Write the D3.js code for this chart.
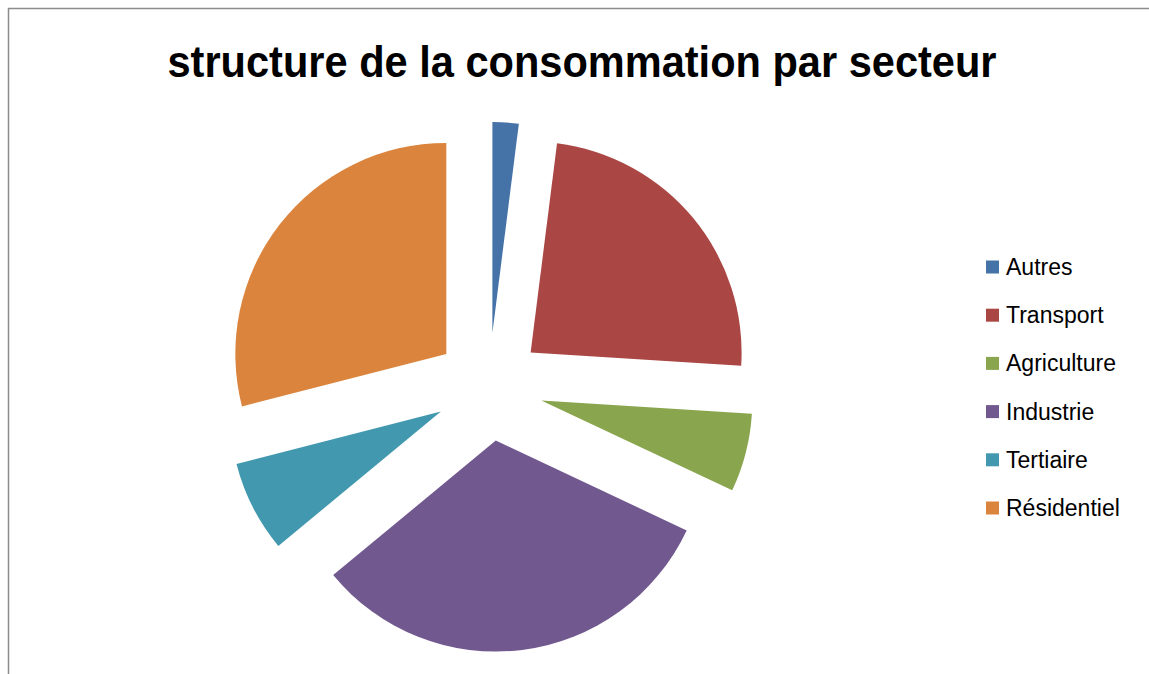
<!DOCTYPE html>
<html>
<head>
<meta charset="utf-8">
<script src="https://cdnjs.cloudflare.com/ajax/libs/d3/7.8.5/d3.min.js"></script>
<style>
  body { margin: 0; background: #fff; }
  text { font-family: "Liberation Sans", Arial, sans-serif; }
</style>
</head>
<body>
<div id="chart"></div>
<script>
// data (percent)
var secteurs = ["Autres", "Transport", "Agriculture", "Industrie", "Tertiaire", "Résidentiel"];
var valeurs = [2, 24, 6, 32, 7, 29];
var couleurs = ["#4572A7", "#AA4643", "#89A54E", "#71588F", "#4198AF", "#DB843D"];

var width = 1149, height = 674;

var svg = d3.select("#chart").append("svg")
  .attr("width", width)
  .attr("height", height);

// chart border (right and bottom edges fall outside the frame)
svg.append("rect")
  .attr("x", 8.5).attr("y", 8.5)
  .attr("width", 1300).attr("height", 800)
  .attr("fill", "none")
  .attr("stroke", "#8c8c8c")
  .attr("stroke-width", 1.5);

// title
svg.append("text")
  .attr("x", 582).attr("y", 77)
  .attr("text-anchor", "middle")
  .attr("font-size", 44)
  .attr("font-weight", "bold")
  .attr("textLength", 829)
  .attr("lengthAdjust", "spacingAndGlyphs")
  .attr("fill", "#000")
  .text("structure de la consommation par secteur");

// pie
var centre = {x: 489, y: 387};
var rayon = 211;
var eclate = 54; // explosion distance

var pie = d3.pie().sort(null).startAngle(0).endAngle(2 * Math.PI);
var arc = d3.arc().innerRadius(0).outerRadius(rayon);

var pieGrp = svg.append("g")
  .attr("transform", "translate(" + centre.x + "," + centre.y + ")");

pieGrp.selectAll("path")
  .data(pie(valeurs))
  .enter()
  .append("path")
  .attr("d", arc)
  .attr("fill", function(d, i) { return couleurs[i]; })
  .attr("transform", function(d) {
    var a = (d.startAngle + d.endAngle) / 2;
    return "translate(" + (Math.sin(a) * eclate) + "," + (-Math.cos(a) * eclate) + ")";
  });

// legend
var legY = d3.scalePoint().domain(secteurs).range([267, 508]);

var leg = svg.append("g");
var item = leg.selectAll("g")
  .data(secteurs)
  .enter()
  .append("g")
  .attr("transform", function(d) { return "translate(986," + legY(d) + ")"; });

item.append("rect")
  .attr("x", 0).attr("y", -6.5)
  .attr("width", 13).attr("height", 13)
  .attr("fill", function(d, i) { return couleurs[i]; });

item.append("text")
  .attr("x", 20).attr("y", 8)
  .attr("font-size", 23)
  .attr("fill", "#000")
  .text(function(d) { return d; });
</script>
</body>
</html>
